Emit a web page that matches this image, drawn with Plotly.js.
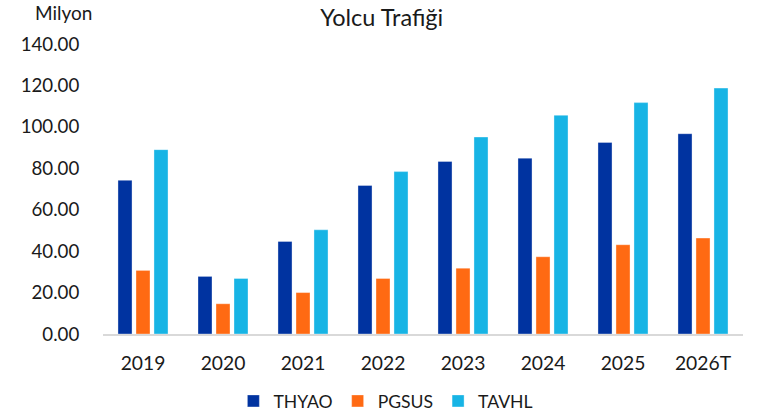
<!DOCTYPE html>
<html>
<head>
<meta charset="utf-8">
<script src="https://cdn.plot.ly/plotly-3.0.1.min.js"></script>
<style>html,body{margin:0;padding:0;background:#fff;}#chart{width:772px;height:419px;}</style>
</head>
<body>
<div id="chart"></div>
<script>
var categories = ["2019", "2020", "2021", "2022", "2023", "2024", "2025", "2026T"];
var thyao = [74.2, 27.8, 44.7, 71.7, 83.3, 84.9, 92.5, 96.7];
var pgsus = [30.7, 14.6, 20.0, 26.8, 31.8, 37.3, 43.1, 46.3];
var tavhl = [89.0, 26.8, 50.3, 78.4, 95.1, 105.6, 111.7, 118.7];
var seriesNames = ["THYAO", "PGSUS", "TAVHL"];
var yTicks = [0, 20, 40, 60, 80, 100, 120, 140];

var colors = ["#0033A0", "#FF6A13", "#17B4E5"];
var font = "Lato, 'Open Sans', sans-serif";
var textColor = "#1a1a1a";

var data = [thyao, pgsus, tavhl].map(function (vals, i) {
  return {
    type: "bar",
    name: seriesNames[i],
    x: categories,
    y: vals,
    marker: { color: colors[i], line: { color: "rgba(255,255,255,0.35)", width: 1 } },
    hoverinfo: "x+y+name"
  };
});

var layout = {
  width: 772,
  height: 419,
  margin: { l: 103, r: 29, t: 44, b: 84.5, autoexpand: false },
  paper_bgcolor: "#fff",
  plot_bgcolor: "#fff",
  font: { family: font, color: textColor, size: 19 },
  title: {
    text: "Yolcu Trafiği",
    font: { family: font, size: 23.5, color: textColor },
    x: 381.7 / 772, xref: "container", xanchor: "center",
    y: 1 - 18 / 419, yref: "container", yanchor: "middle"
  },
  barmode: "group",
  bargap: 0.325,
  bargroupgap: 0.22,
  xaxis: {
    type: "category",
    showgrid: false,
    zeroline: false,
    showline: true,
    linecolor: "#d9d9d9",
    linewidth: 2,
    ticks: "outside",
    ticklen: 11,
    tickcolor: "rgba(0,0,0,0)",
    tickfont: { family: font, size: 19.3, color: textColor },
    fixedrange: true
  },
  yaxis: {
    range: [0, 140],
    tickvals: yTicks,
    tickformat: ".2f",
    showgrid: false,
    zeroline: false,
    showline: false,
    ticks: "outside",
    ticklen: 19,
    tickcolor: "rgba(0,0,0,0)",
    tickfont: { family: font, size: 18.7, color: textColor },
    fixedrange: true
  },
  showlegend: true,
  legend: {
    orientation: "h",
    x: 0.442, xanchor: "center",
    y: -0.231, yanchor: "middle",
    font: { family: font, size: 17.6, color: textColor },
    traceorder: "normal"
  },
  annotations: [{
    text: "Milyon",
    xref: "paper", yref: "paper",
    x: (33 - 103) / 640, xanchor: "left",
    y: (334.5 - 12) / 290.5, yanchor: "middle",
    showarrow: false,
    font: { family: font, size: 19, color: textColor }
  }]
};

Plotly.newPlot("chart", data, layout, { displayModeBar: false, staticPlot: true });
</script>
</body>
</html>
